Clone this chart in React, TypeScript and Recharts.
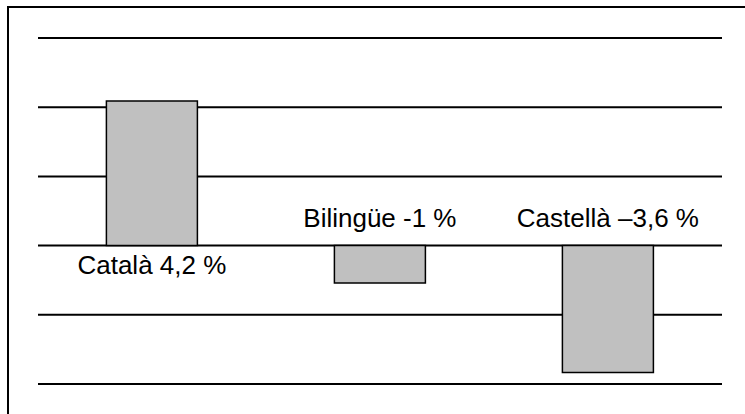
import { BarChart, Bar, XAxis, YAxis, CartesianGrid, LabelList } from "recharts";

const CATEGORIES = ["Català", "Bilingüe", "Castellà"];
const VALUES = [4.18, -1.08, -3.67];
const LABELS = ["Català 4,2 %", "Bilingüe -1 %", "Castellà –3,6 %"];
const Y_TICKS = [-4, -2, 0, 2, 4, 6];

const data = CATEGORIES.map((name, i) => ({ name, value: VALUES[i], label: LABELS[i] }));

const FONT = "'Liberation Sans', Arial, sans-serif";

// Positive bars get the label under the zero line, negative ones above it.
function BarLabel(props: any) {
  const { x, y, width, height, value, index } = props;
  const top = Math.min(y, y + height);
  const bottom = Math.max(y, y + height);
  const positive = VALUES[index] >= 0;
  const zero = positive ? bottom : top;
  const cx = x + width / 2;
  return (
    <text
      x={cx}
      y={positive ? zero + 28 : zero - 19}
      textAnchor="middle"
      fontSize={26}
      fontFamily={FONT}
      fill="#000"
    >
      {value}
    </text>
  );
}

export default function App() {
  return (
    <div
      style={{
        position: "absolute",
        left: 7,
        top: 6,
        width: 760,
        height: 430,
        borderTop: "2px solid #000",
        borderLeft: "2px solid #000",
        background: "#fff",
      }}
    >
      <BarChart
        width={736}
        height={406}
        data={data}
        margin={{ top: 30, right: 23, bottom: 30, left: 29 }}
        barCategoryGap="30%"
      >
        <CartesianGrid vertical={false} stroke="#000" strokeWidth={2} />
        <XAxis dataKey="name" hide />
        <YAxis hide domain={[-4, 6]} ticks={Y_TICKS} />
        <Bar
          dataKey="value"
          fill="#C0C0C0"
          stroke="#000"
          strokeWidth={1.5}
          isAnimationActive={false}
        >
          <LabelList dataKey="label" content={<BarLabel />} />
        </Bar>
      </BarChart>
    </div>
  );
}
